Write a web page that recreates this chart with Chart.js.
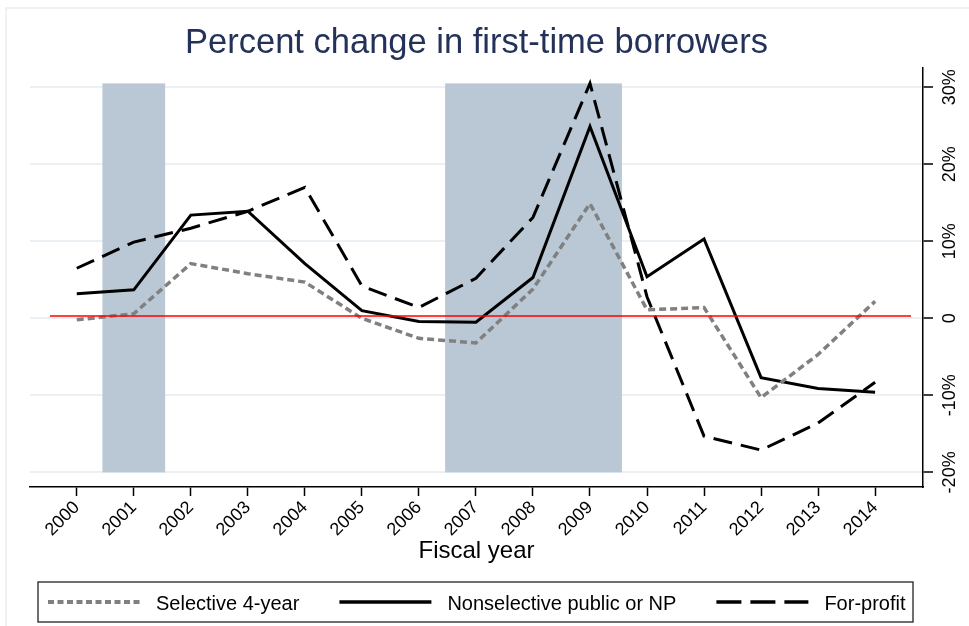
<!DOCTYPE html>
<html>
<head>
<meta charset="utf-8">
<script src="https://cdn.jsdelivr.net/npm/chart.js@4"></script>
<style>
  html, body { margin: 0; padding: 0; background: #fff; overflow: hidden; }
  #wrap { position: relative; width: 969px; height: 626px; }
</style>
</head>
<body>
<div id="wrap"><canvas id="borrowers" width="969" height="626"></canvas></div>
<script>
const years = [2000, 2001, 2002, 2003, 2004, 2005, 2006, 2007, 2008, 2009, 2010, 2011, 2012, 2013, 2014];
const selective = [-0.2, 0.6, 7.1, 5.8, 4.7, 0.0, -2.6, -3.2, 3.8, 14.9, 1.1, 1.4, -10.3, -4.7, 2.2];
const nonselective = [3.2, 3.7, 13.4, 13.9, 7.1, 1.0, -0.4, -0.5, 5.3, 24.9, 5.4, 10.3, -7.7, -9.1, -9.6];
const forProfit = [6.5, 9.9, 11.7, 13.9, 17.0, 4.2, 1.4, 5.2, 13.1, 30.5, 2.8, -15.3, -17.1, -13.6, -8.3];
const seriesNames = ['Selective 4-year', 'Nonselective public or NP', 'For-profit'];

// recession shading (fiscal years)
const bandStart = [2000.45, 2006.46];
const bandEnd = [2001.55, 2009.56];
const bandLow = -20;
const bandHigh = 30.5;

// red reference line
const refLineX = [1999.53, 2014.63];
const refLineY = [0.3, 0.3];

const yTicks = [-20, -10, 0, 10, 20, 30];
const yTickLabels = ['-20%', '-10%', '0', '10%', '20%', '30%'];

const FONT = '"Liberation Sans", Arial, sans-serif';

function toPoints(xs, ys) {
  return xs.map((x, i) => ({ x: x, y: ys[i] }));
}

const bandsPlugin = {
  id: 'bands',
  beforeDatasetsDraw(chart) {
    const { ctx, scales: { x, y } } = chart;
    ctx.save();
    ctx.fillStyle = '#b9c8d4';
    for (let i = 0; i < bandStart.length; i++) {
      const x0 = x.getPixelForValue(bandStart[i]);
      const x1 = x.getPixelForValue(bandEnd[i]);
      const y0 = y.getPixelForValue(bandHigh);
      const y1 = y.getPixelForValue(bandLow);
      ctx.fillRect(x0, y0, x1 - x0, y1 - y0);
    }
    ctx.restore();
  }
};

const rightTicksPlugin = {
  id: 'rightTicks',
  afterDraw(chart) {
    const { ctx, scales: { y } } = chart;
    ctx.save();
    ctx.fillStyle = '#000';
    ctx.font = '18px ' + FONT;
    ctx.textAlign = 'center';
    ctx.textBaseline = 'middle';
    yTicks.forEach((v, i) => {
      ctx.save();
      ctx.translate(y.left + 27, y.getPixelForValue(v));
      ctx.rotate(-Math.PI / 2);
      ctx.fillText(yTickLabels[i], 0, 0);
      ctx.restore();
    });
    ctx.restore();
  }
};

const framePlugin = {
  id: 'frame',
  beforeDraw(chart) {
    const ctx = chart.ctx;
    ctx.save();
    ctx.strokeStyle = '#e6eef2';
    ctx.lineWidth = 1.5;
    ctx.beginPath();
    ctx.moveTo(6, chart.height);
    ctx.lineTo(6, 8);
    ctx.lineTo(chart.width, 8);
    ctx.stroke();
    ctx.restore();
  }
};

const boxLegendPlugin = {
  id: 'boxLegend',
  afterDraw(chart) {
    const ctx = chart.ctx;
    const top = chart.scales.x.bottom + 15;
    const h = 40;
    const left = 38, right = 913;
    const mid = top + h / 2;
    ctx.save();
    ctx.strokeStyle = '#222';
    ctx.lineWidth = 1.3;
    ctx.strokeRect(left, top, right - left, h);
    ctx.font = '20px ' + FONT;
    ctx.textBaseline = 'middle';
    ctx.fillStyle = '#000';
    const samples = [
      { color: '#808080', width: 4, dash: [6, 3.5] },
      { color: '#000', width: 3.5, dash: [] },
      { color: '#000', width: 3.5, dash: [25, 9] }
    ];
    let cx = 48;
    seriesNames.forEach((name, i) => {
      const s = samples[i];
      ctx.beginPath();
      ctx.strokeStyle = s.color;
      ctx.lineWidth = s.width;
      ctx.setLineDash(s.dash);
      ctx.moveTo(cx, mid);
      ctx.lineTo(cx + 92, mid);
      ctx.stroke();
      ctx.setLineDash([]);
      cx += 92 + 16;
      ctx.fillText(name, cx, mid + 2);
      cx += ctx.measureText(name).width + 40;
    });
    ctx.restore();
  }
};

const ctx = document.getElementById('borrowers');
new Chart(ctx, {
  type: 'line',
  data: {
    datasets: [
      {
        label: 'zero',
        data: toPoints(refLineX, refLineY),
        borderColor: '#ff0000',
        borderWidth: 1.6,
        order: 0
      },
      {
        label: seriesNames[0],
        data: toPoints(years, selective),
        borderColor: '#808080',
        borderWidth: 3.5,
        borderDash: [7, 4],
        order: 1
      },
      {
        label: seriesNames[1],
        data: toPoints(years, nonselective),
        borderColor: '#000',
        borderWidth: 3,
        order: 1
      },
      {
        label: seriesNames[2],
        data: toPoints(years, forProfit),
        borderColor: '#000',
        borderWidth: 3,
        borderDash: [19, 9],
        order: 1
      }
    ]
  },
  options: {
    responsive: false,
    animation: false,
    devicePixelRatio: 1,
    layout: { padding: { left: 30, right: 0, top: 0, bottom: 59 } },
    elements: {
      point: { radius: 0 },
      line: { tension: 0, fill: false, borderCapStyle: 'butt', borderJoinStyle: 'miter' }
    },
    plugins: {
      legend: { display: false },
      tooltip: { enabled: false },
      title: {
        display: true,
        fullSize: false,
        text: 'Percent change in first-time borrowers',
        color: '#243159',
        font: { family: FONT, size: 34.5, weight: 'normal' },
        padding: { top: 23, bottom: 3.6 }
      }
    },
    scales: {
      x: {
        type: 'linear',
        min: 1999.18,
        max: 2014.84,
        afterBuildTicks: (scale) => { scale.ticks = years.map(v => ({ value: v })); },
        afterFit: (scale) => { scale.height = 80; },
        ticks: {
          autoSkip: false,
          minRotation: 45,
          maxRotation: 45,
          padding: 1,
          color: '#000',
          font: { family: FONT, size: 18 },
          callback: (v) => String(v)
        },
        grid: { drawOnChartArea: false, drawTicks: true, tickLength: 9, tickColor: '#000', tickWidth: 1.5 },
        border: { display: true, color: '#000', width: 1.5 },
        title: {
          display: true,
          text: 'Fiscal year',
          color: '#000',
          font: { family: FONT, size: 24 },
          padding: { top: 0, bottom: 1 }
        }
      },
      y: {
        position: 'right',
        min: -21.9,
        max: 32.5,
        afterBuildTicks: (scale) => { scale.ticks = yTicks.map(v => ({ value: v })); },
        afterFit: (scale) => { scale.width = 46; },
        ticks: { display: false },
        grid: { color: '#eaf0f4', lineWidth: 2, tickLength: 10, tickColor: '#000', tickWidth: 1.5 },
        border: { display: true, color: '#000', width: 1.5 }
      }
    }
  },
  plugins: [framePlugin, bandsPlugin, rightTicksPlugin, boxLegendPlugin]
});
</script>
</body>
</html>
